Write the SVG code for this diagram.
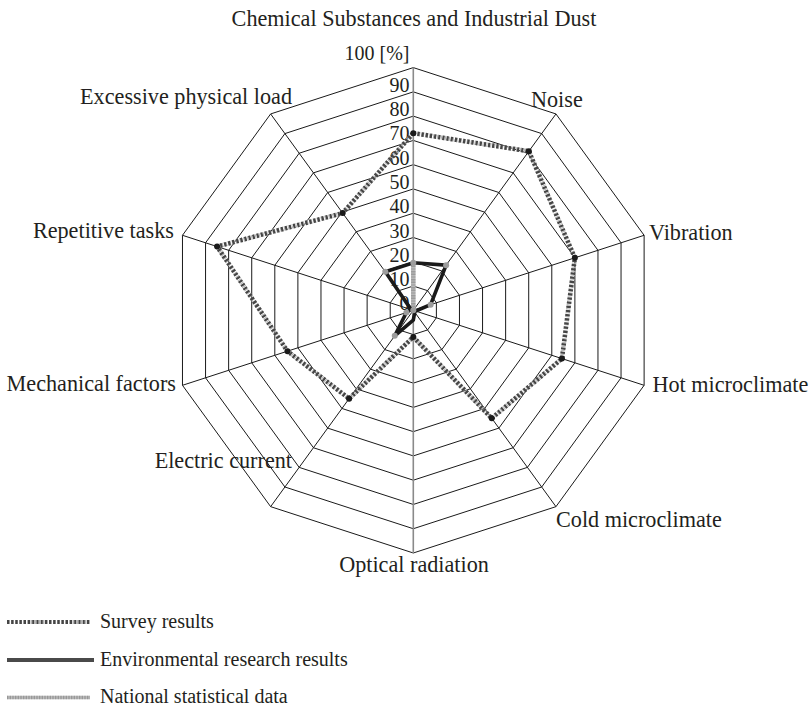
<svg xmlns="http://www.w3.org/2000/svg" width="811" height="707" viewBox="0 0 811 707">
<style>
text{font-family:"Liberation Serif","Times New Roman",serif;fill:#231f20}
.ax{font-size:22.2px}
.tk{font-size:20px;text-anchor:end}
.lg{font-size:20px}
.ring,.spoke{fill:none;stroke:#1a1a1a;stroke-width:1}
.vaxis{stroke:#8a8a8a;stroke-width:1.6}
.sv1{fill:none;stroke:#b3b3b3;stroke-width:4.5;stroke-dasharray:1 1}
.sv2{fill:none;stroke:#454545;stroke-width:4.5;stroke-dasharray:2.2 2}
.env{fill:none;stroke:#1a1a1a;stroke-width:3.6;stroke-linejoin:miter}
.nat{fill:none;stroke:#8c8c8c;stroke-width:4.5;stroke-dasharray:0.8 0.8}
.nat2{fill:none;stroke:#c8c8c8;stroke-width:4.5}
.ms{fill:#1a1a1a}
.me{fill:#9c9c9c}
</style>
<rect width="811" height="707" fill="#ffffff"/>
<g id="chart" transform="translate(413.3 310.3)">
<g id="grid">
<polygon class="ring" points="0,-24.27 14.27,-19.64 23.08,-7.5 23.08,7.5 14.27,19.64 0,24.27 -14.27,19.64 -23.08,7.5 -23.08,-7.5 -14.27,-19.64"/>
<polygon class="ring" points="0,-48.54 28.53,-39.27 46.16,-15 46.16,15 28.53,39.27 0,48.54 -28.53,39.27 -46.16,15 -46.16,-15 -28.53,-39.27"/>
<polygon class="ring" points="0,-72.81 42.8,-58.9 69.25,-22.5 69.25,22.5 42.8,58.9 0,72.81 -42.8,58.9 -69.25,22.5 -69.25,-22.5 -42.8,-58.9"/>
<polygon class="ring" points="0,-97.08 57.06,-78.54 92.33,-30 92.33,30 57.06,78.54 0,97.08 -57.06,78.54 -92.33,30 -92.33,-30 -57.06,-78.54"/>
<polygon class="ring" points="0,-121.35 71.33,-98.17 115.41,-37.5 115.41,37.5 71.33,98.17 0,121.35 -71.33,98.17 -115.41,37.5 -115.41,-37.5 -71.33,-98.17"/>
<polygon class="ring" points="0,-145.62 85.59,-117.81 138.49,-45 138.49,45 85.59,117.81 0,145.62 -85.59,117.81 -138.49,45 -138.49,-45 -85.59,-117.81"/>
<polygon class="ring" points="0,-169.89 99.86,-137.44 161.58,-52.5 161.58,52.5 99.86,137.44 0,169.89 -99.86,137.44 -161.58,52.5 -161.58,-52.5 -99.86,-137.44"/>
<polygon class="ring" points="0,-194.16 114.12,-157.08 184.66,-60 184.66,60 114.12,157.08 0,194.16 -114.12,157.08 -184.66,60 -184.66,-60 -114.12,-157.08"/>
<polygon class="ring" points="0,-218.43 128.39,-176.71 207.74,-67.5 207.74,67.5 128.39,176.71 0,218.43 -128.39,176.71 -207.74,67.5 -207.74,-67.5 -128.39,-176.71"/>
<polygon class="ring" points="0,-242.7 142.66,-196.35 230.82,-75 230.82,75 142.66,196.35 0,242.7 -142.66,196.35 -230.82,75 -230.82,-75 -142.66,-196.35"/>
<path class="spoke" d="M0,0L142.66,-196.35M0,0L230.82,-75M0,0L230.82,75M0,0L142.66,196.35M0,0L-142.66,196.35M0,0L-230.82,75M0,0L-230.82,-75M0,0L-142.66,-196.35"/>
<line class="vaxis" x1="0" y1="-242.7" x2="0" y2="242.7"/>
</g>
<g id="ticks">
<text class="tk" x="-3.8" y="0">0</text>
<text class="tk" x="-3.8" y="-24.3">10</text>
<text class="tk" x="-3.8" y="-48.5">20</text>
<text class="tk" x="-3.8" y="-72.8">30</text>
<text class="tk" x="-3.8" y="-97.1">40</text>
<text class="tk" x="-3.8" y="-121.3">50</text>
<text class="tk" x="-3.8" y="-145.6">60</text>
<text class="tk" x="-3.8" y="-169.9">70</text>
<text class="tk" x="-3.8" y="-194.2">80</text>
<text class="tk" x="-3.8" y="-218.4">90</text>
<text class="tk" x="-3.8" y="-250.8">100 [%]</text>
</g>
<g id="national">
<polyline class="nat2" points="0,-47.3 0,0"/>
<polyline class="nat" points="0,-47.3 0,0"/>
</g>
<g id="survey">
<polygon class="sv1" points="0,-177.17 115.55,-159.04 161.58,-52.5 148.65,48.3 78.46,107.99 0,26.7 -64.19,88.35 -125.8,40.87 -196.2,-63.75 -70.62,-97.19"/>
<polygon class="sv2" points="0,-177.17 115.55,-159.04 161.58,-52.5 148.65,48.3 78.46,107.99 0,26.7 -64.19,88.35 -125.8,40.87 -196.2,-63.75 -70.62,-97.19"/>
<g class="ms">
<circle cx="0" cy="-177.17" r="3"/><circle cx="115.55" cy="-159.04" r="3"/><circle cx="161.58" cy="-52.5" r="3"/><circle cx="148.65" cy="48.3" r="3"/><circle cx="78.46" cy="107.99" r="3"/><circle cx="0" cy="26.7" r="3"/><circle cx="-64.19" cy="88.35" r="3"/><circle cx="-125.8" cy="40.87" r="3"/><circle cx="-196.2" cy="-63.75" r="3"/><circle cx="-70.62" cy="-97.19" r="3"/>
</g>
</g>
<g id="environmental">
<polygon class="env" points="0,-47.57 32.81,-45.16 17.31,-5.62 2.31,0.75 1.43,1.96 0,9.7 -18.55,25.53 -6.92,2.25 -2.31,-0.75 -27.96,-38.49"/>
<g class="me">
<circle cx="0" cy="-47.57" r="3"/><circle cx="32.81" cy="-45.16" r="3"/><circle cx="17.31" cy="-5.62" r="3"/><circle cx="0" cy="0" r="3"/><circle cx="-18.55" cy="25.53" r="3"/><circle cx="-6.92" cy="2.25" r="3"/><circle cx="-27.96" cy="-38.49" r="3"/>
</g>
</g>
</g>
<g id="labels">
<text id="lbl-chem" class="ax" x="414" y="26" text-anchor="middle">Chemical Substances and Industrial Dust</text>
<text id="lbl-noise" class="ax" x="531" y="107">Noise</text>
<text id="lbl-vibration" class="ax" x="649" y="240">Vibration</text>
<text id="lbl-hot" class="ax" x="652.5" y="391.5">Hot microclimate</text>
<text id="lbl-cold" class="ax" x="556" y="527">Cold microclimate</text>
<text id="lbl-optical" class="ax" x="414" y="572" text-anchor="middle">Optical radiation</text>
<text id="lbl-electric" class="ax" x="292" y="468" text-anchor="end">Electric current</text>
<text id="lbl-mech" class="ax" x="176" y="391" text-anchor="end">Mechanical factors</text>
<text id="lbl-rep" class="ax" x="174" y="238" text-anchor="end">Repetitive tasks</text>
<text id="lbl-excess" class="ax" x="292" y="104" text-anchor="end">Excessive physical load</text>
</g>
<g id="legend">
<g id="leg-survey">
<line class="sv1" x1="7" y1="622" x2="90" y2="622" style="stroke-width:4"/>
<line class="sv2" x1="7" y1="622" x2="90" y2="622" style="stroke-width:4"/>
<text class="lg" x="100" y="627.5">Survey results</text>
</g>
<g id="leg-env">
<line x1="7" y1="660" x2="94" y2="660" stroke="#4a4a4a" stroke-width="4.2"/>
<text class="lg" x="100" y="665.5">Environmental research results</text>
</g>
<g id="leg-nat">
<line class="nat2" x1="7" y1="697.5" x2="90" y2="697.5" style="stroke-width:3.5"/>
<line class="nat" x1="7" y1="697.5" x2="90" y2="697.5" style="stroke-width:3.5"/>
<text class="lg" x="100" y="703">National statistical data</text>
</g>
</g>
</svg>
